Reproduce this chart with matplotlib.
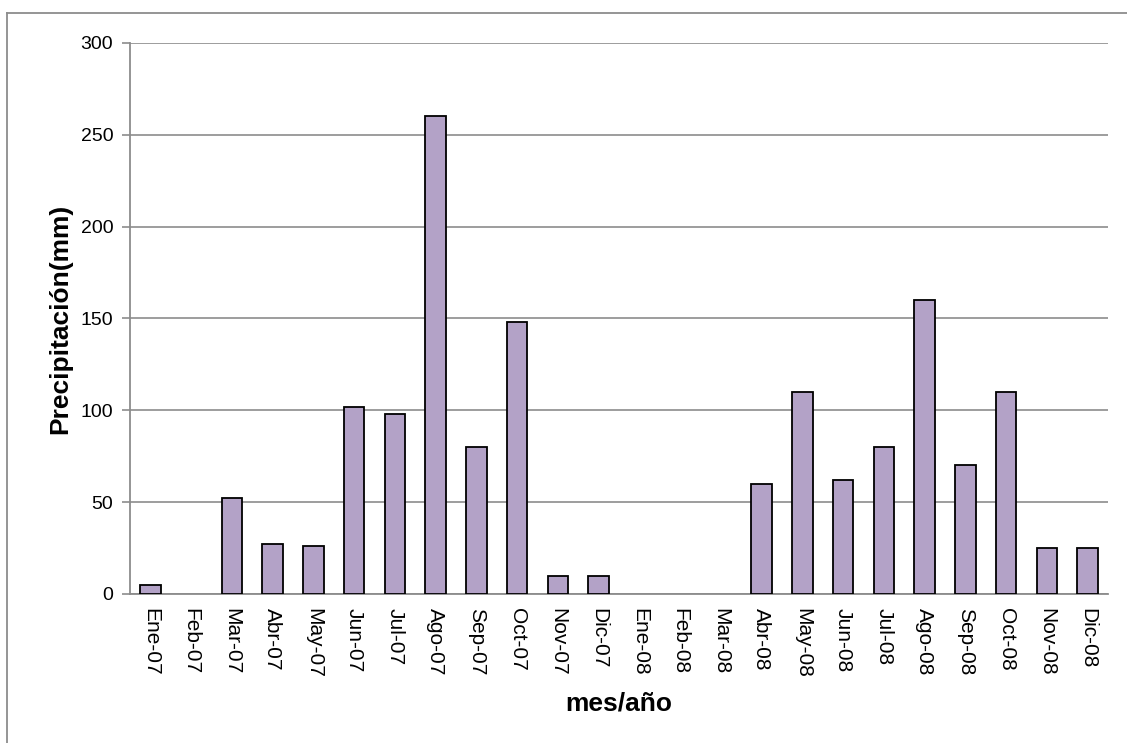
import numpy as np
import matplotlib
matplotlib.use("Agg")
import matplotlib.pyplot as plt
from matplotlib.lines import Line2D

meses = ["Ene-07", "Feb-07", "Mar-07", "Abr-07", "May-07", "Jun-07",
         "Jul-07", "Ago-07", "Sep-07", "Oct-07", "Nov-07", "Dic-07",
         "Ene-08", "Feb-08", "Mar-08", "Abr-08", "May-08", "Jun-08",
         "Jul-08", "Ago-08", "Sep-08", "Oct-08", "Nov-08", "Dic-08"]
precip = [5, 0, 52, 27, 26, 102, 98, 260, 80, 148, 10, 10,
          0, 0, 0, 60, 110, 62, 80, 160, 70, 110, 25, 25]
yticks = [0, 50, 100, 150, 200, 250, 300]

plt.rcParams["font.family"] = ["Liberation Sans", "DejaVu Sans"]

W, H = 1127, 743
fig = plt.figure(figsize=(W / 100, H / 100), dpi=100)
ax = fig.add_axes([130 / W, 1 - 594 / H, (1108 - 130) / W, (594 - 43) / H])

x = np.arange(len(meses))
edges = ["black" if v > 0 else "none" for v in precip]
ax.bar(x, precip, width=0.5, color="#b3a2c7", edgecolor=edges, lw=1.3, zorder=3)

ax.set_xlim(-0.5, len(meses) - 0.5)
ax.set_ylim(0, 300)
ax.set_yticks(yticks)
ax.yaxis.grid(True, color="#8c8c8c", lw=1.2, zorder=0)
ax.set_xticks(x)
ax.set_xticklabels(meses, rotation=270, fontsize=15)
ax.tick_params(axis="x", length=0, pad=10)
ax.tick_params(axis="y", length=6, width=1.2, color="#8c8c8c", labelsize=14, pad=6)
for s in ["top", "right"]:
    ax.spines[s].set_visible(False)
for s in ["left", "bottom"]:
    ax.spines[s].set_color("#8c8c8c")
    ax.spines[s].set_linewidth(1.3)

ax.set_ylabel("Precipitación(mm)", fontsize=19, fontweight="bold", labelpad=6)
ax.set_xlabel("mes/año", fontsize=19, fontweight="bold", labelpad=10)

# chart area border (left and top only visible)
fig.add_artist(Line2D([7 / W, 7 / W], [0, 1 - 13 / H], color="#8c8c8c", lw=1.3))
fig.add_artist(Line2D([7 / W, 1], [1 - 13 / H, 1 - 13 / H], color="#8c8c8c", lw=1.3))

fig.savefig("out.png", dpi=100)
